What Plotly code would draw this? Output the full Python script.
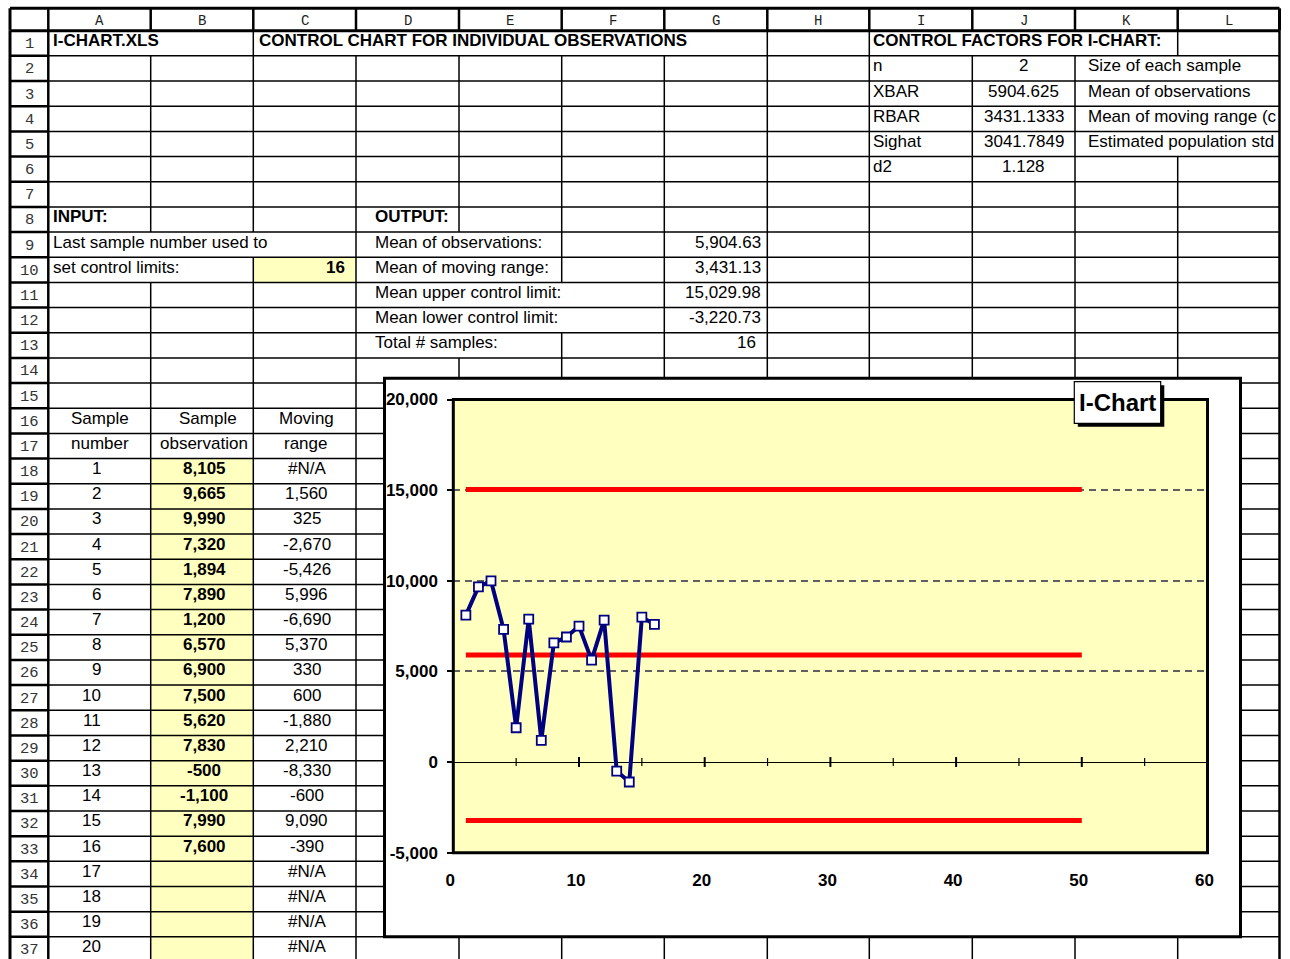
import plotly.graph_objects as go

# ---------- worksheet values ----------
sample_number = [1, 2, 3, 4, 5, 6, 7, 8, 9, 10, 11, 12, 13, 14, 15, 16, 17, 18, 19, 20]
observation = [8105, 9665, 9990, 7320, 1894, 7890, 1200, 6570, 6900, 7500,
               5620, 7830, -500, -1100, 7990, 7600]
moving_range = [None, 1560, 325, -2670, -5426, 5996, -6690, 5370, 330, 600,
                -1880, 2210, -8330, -600, 9090, -390, None, None, None, None]

factor_names = ["n", "XBAR", "RBAR", "Sighat", "d2"]
factor_values = ["2", "5904.625", "3431.1333", "3041.7849", "1.128"]
factor_notes = ["Size of each sample", "Mean of observations",
                "Mean of moving range (c", "Estimated population std", ""]

output_labels = ["Mean of observations:", "Mean of moving range:",
                 "Mean upper control limit:", "Mean lower control limit:",
                 "Total # samples:"]
output_values = [5904.63, 3431.13, 15029.98, -3220.73, 16]
last_sample = 16

limit_span = [1, 50]
y_ticks = [-5000, 0, 5000, 10000, 15000, 20000]
x_ticks = [0, 10, 20, 30, 40, 50, 60]
x_minor = [5, 15, 25, 35, 45, 55]
x_major = [10, 20, 30, 40, 50]

center_line = output_values[0]
upper_limit = output_values[2]
lower_limit = output_values[3]

# ---------- page geometry (pixels) ----------
W, H = 1290, 959
SANS = "Liberation Sans, Arial, sans-serif"
MONO = "Liberation Mono, Courier New, monospace"
YELLOW = "#FFFFC0"

col_x = [10, 48.3, 150.7, 253.3, 356, 459, 561.7, 664.3, 767.3,
         869.3, 972.3, 1075, 1177.7, 1279.5]
letters = "ABCDEFGHIJKL"
HDR_TOP, HDR_BOT = 8.3, 30.7
ROW_H = 25.17
N_ROWS = 37


def px(x):
    return x / W


def py(y):
    return 1 - y / H


def row_top(r):
    return HDR_BOT + (r - 1) * ROW_H


shapes = []


def line(x0, y0, x1, y1, width=1.5, color="black", layer="below"):
    shapes.append(dict(type="line", xref="paper", yref="paper",
                       x0=px(x0), y0=py(y0), x1=px(x1), y1=py(y1),
                       line=dict(color=color, width=width), layer=layer))


def rect(x0, y0, x1, y1, fill, lw=0, lc="black", layer="below"):
    shapes.append(dict(type="rect", xref="paper", yref="paper",
                       x0=px(x0), y0=py(y1), x1=px(x1), y1=py(y0),
                       fillcolor=fill, line=dict(color=lc, width=lw), layer=layer))


annotations = []


def txt(x, y, s, anchor="left", bold=False, size=17, family=SANS, color="black"):
    annotations.append(dict(
        x=px(x), y=py(y), xref="paper", yref="paper", text=s, showarrow=False,
        xanchor=anchor, yanchor="middle",
        font=dict(family=family, size=size, color=color,
                  weight="bold" if bold else "normal")))


# ---------- cell fills ----------
rect(col_x[2], row_top(18), col_x[3], row_top(N_ROWS + 1), YELLOW)
rect(col_x[3], row_top(10), col_x[4], row_top(11), YELLOW)

# ---------- grid ----------
for r in range(1, N_ROWS + 2):
    y = row_top(r)
    line(col_x[1], y, col_x[13], y, width=3 if r == 1 else 1.5)
    line(col_x[0], y, col_x[1], y, width=3 if r == 1 else 2.5)
line(col_x[0], HDR_TOP, col_x[13], HDR_TOP, width=3)

# vertical rules, skipping cells that text runs across
skip = {2: {1, 9, 10}, 3: {9}, 4: {1}, 5: {1, 9, 10, 11, 12, 13},
        6: {1, 11, 12}, 7: {1}, 10: {1}, 11: {1}, 12: {2, 3, 4, 5}}
for i, x in enumerate(col_x):
    line(x, HDR_TOP, x, HDR_BOT, width=3 if i in (0, 13) else 2.5)
    w = 3 if i == 0 else (2.5 if i in (1, 13) else 1.5)
    start = None
    for r in range(1, N_ROWS + 2):
        present = r <= N_ROWS and r not in skip.get(i, set())
        if present and start is None:
            start = r
        if not present and start is not None:
            line(x, row_top(start), x, row_top(r), width=w)
            start = None

# ---------- headers ----------
for i, ch in enumerate(letters):
    txt((col_x[i + 1] + col_x[i + 2]) / 2, 20.5, ch, anchor="center",
        size=14, family=MONO, color="#222")
for r in range(1, N_ROWS + 1):
    txt((col_x[0] + col_x[1]) / 2, row_top(r) + 13.5, str(r), anchor="center",
        size=15.5, family=MONO, color="#333")


# ---------- sheet text ----------
def ty(r):
    return row_top(r) + 10


txt(50.5, ty(1), "I-CHART.XLS", bold=True)
txt(256.5, ty(1), "CONTROL CHART FOR INDIVIDUAL OBSERVATIONS", bold=True)
txt(871, ty(1), "CONTROL FACTORS FOR I-CHART:", bold=True)
for k in range(5):
    r = 2 + k
    txt(871, ty(r), factor_names[k])
    txt((col_x[10] + col_x[11]) / 2, ty(r), factor_values[k], anchor="center")
    if factor_notes[k]:
        txt(1086, ty(r), factor_notes[k])

txt(50.5, ty(8), "INPUT:", bold=True)
txt(50.5, ty(9), "Last sample number used to")
txt(50.5, ty(10), "set control limits:")
txt(347, ty(10), str(last_sample), anchor="right", bold=True)

txt(373, ty(8), "OUTPUT:", bold=True)
for k in range(5):
    r = 9 + k
    txt(373, ty(r), output_labels[k])
    v = output_values[k]
    s = f"{v:,.2f}" if k < 4 else f"{v:,}"
    txt(763 if k < 4 else 758, ty(r), s, anchor="right")

txt(100, ty(16), "Sample", anchor="center")
txt(100, ty(17), "number", anchor="center")
txt(208, ty(16), "Sample", anchor="center")
txt(204.5, ty(17), "observation", anchor="center")
txt(306, ty(16), "Moving", anchor="center")
txt(305.5, ty(17), "range", anchor="center")

for k, n in enumerate(sample_number):
    r = 18 + k
    txt(103, ty(r), str(n), anchor="right")
    if k < len(observation):
        txt(204.5, ty(r), f"{observation[k]:,}", anchor="center", bold=True)
    mrv = moving_range[k]
    txt(306.5, ty(r), "#N/A" if mrv is None else f"{mrv:,}", anchor="center")

# ---------- chart object ----------
CH_L, CH_T, CH_R, CH_B = 384.5, 378.3, 1240.5, 936.7
PL_L, PL_T, PL_R, PL_B = 453.3, 399.5, 1207.5, 852.7
rect(CH_L, CH_T, CH_R, CH_B, "white", lw=3)
rect(PL_L, PL_T, PL_R, PL_B, YELLOW)

# crossing tick marks on the zero line
for xv in x_minor:
    shapes.append(dict(type="line", xref="x", yref="y", ysizemode="pixel", yanchor=0,
                       x0=xv, x1=xv, y0=-4, y1=4, line=dict(color="black", width=1.2),
                       layer="above"))
for xv in x_major:
    shapes.append(dict(type="line", xref="x", yref="y", ysizemode="pixel", yanchor=0,
                       x0=xv, x1=xv, y0=-5, y1=5, line=dict(color="black", width=2),
                       layer="above"))

# plot-area frame
rect(PL_L, PL_T, PL_R, PL_B, "rgba(0,0,0,0)", lw=3, layer="above")

# chart title box with drop shadow
rect(1077.8, 385.2, 1164.3, 426.8, "black", layer="above")
rect(1074.3, 381.7, 1160.7, 423.3, "white", lw=1.2, layer="above")
txt(1117.5, 402.5, "I-Chart", anchor="center", bold=True, size=24)

fig = go.Figure()

for val in (upper_limit, center_line, lower_limit):
    fig.add_trace(go.Scatter(
        x=limit_span, y=[val, val], mode="lines",
        line=dict(color="#FF0000", width=5), hoverinfo="skip", showlegend=False))

fig.add_trace(go.Scatter(
    x=sample_number[:len(observation)], y=observation, mode="lines+markers",
    line=dict(color="#000080", width=4),
    marker=dict(symbol="square", size=9, color="white",
                line=dict(color="#000080", width=1.8)),
    showlegend=False))

fig.update_layout(
    width=W, height=H, autosize=False, showlegend=False,
    margin=dict(l=0, r=0, t=0, b=0, pad=0, autoexpand=False),
    paper_bgcolor="white", plot_bgcolor="rgba(0,0,0,0)",
    shapes=shapes, annotations=annotations,
    xaxis=dict(domain=[px(PL_L), px(PL_R)], range=[0, 60], automargin=False,
               tickvals=x_ticks, ticktext=[str(v) for v in x_ticks],
               ticks="outside", ticklen=12, tickcolor="rgba(0,0,0,0)",
               ticklabelshift=-3,
               showgrid=False, zeroline=False, showline=False,
               tickfont=dict(family=SANS, size=17, color="black", weight="bold")),
    yaxis=dict(domain=[py(PL_B), py(PL_T)], range=[-5000, 20000], automargin=False,
               tickvals=y_ticks, ticktext=[f"{v:,}" for v in y_ticks],
               ticks="outside", ticklen=5, tickwidth=1.5, tickcolor="black",
               ticklabelstandoff=6,
               showgrid=True, gridcolor="#606060", gridwidth=1.5, griddash="7px,5px",
               zeroline=True, zerolinecolor="black", zerolinewidth=1.3,
               showline=False,
               tickfont=dict(family=SANS, size=17, color="black", weight="bold")),
)

fig.write_html("out.html", config={"displayModeBar": False})
